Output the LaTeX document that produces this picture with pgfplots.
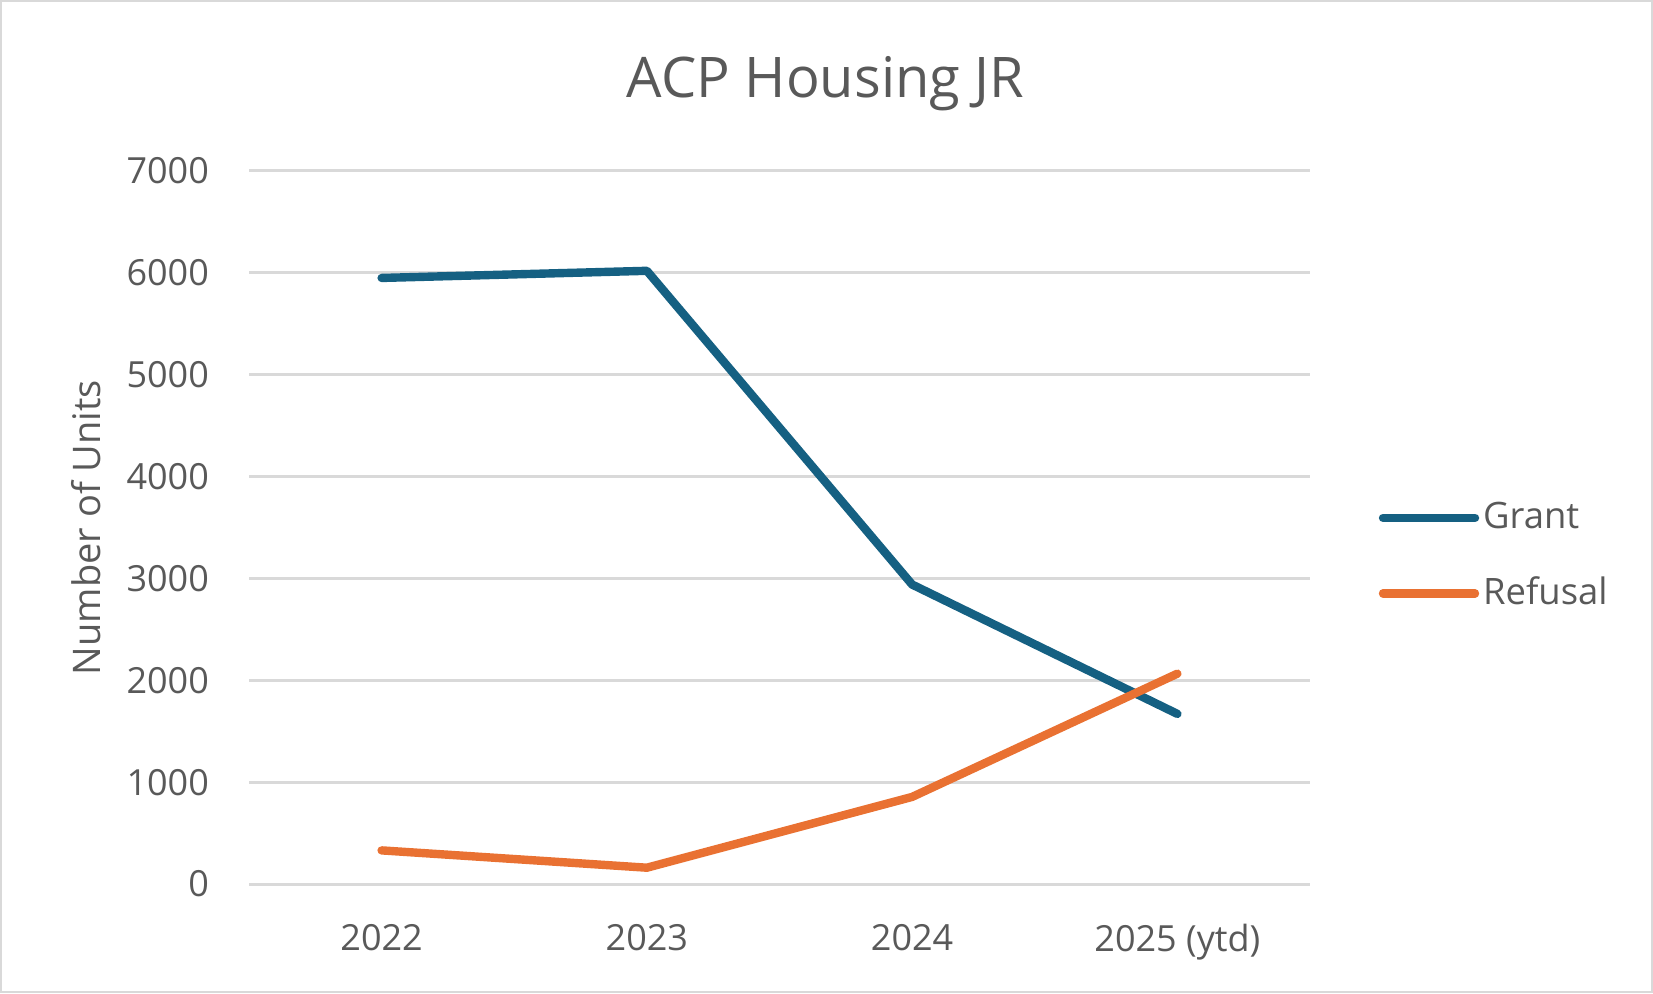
\documentclass[border=0pt]{standalone}
\usepackage{fontspec}
\setmainfont{Open Sans}
\usepackage{pgfplots}
\pgfplotsset{compat=1.18}
\definecolor{grantc}{HTML}{156082}
\definecolor{refc}{HTML}{E97132}
\definecolor{txt}{HTML}{595959}
\definecolor{gridc}{HTML}{D9D9D9}

\begin{document}
\begin{tikzpicture}
\begin{axis}[
  name=ax,
  scale only axis,
  width=265.25pt, height=178.25pt,
  xmin=-0.5, xmax=3.5, ymin=0, ymax=7000,
  xtick={0,1,2,3},
  xticklabels={2022,2023,2024,2025 (ytd)},
  ytick={0,1000,...,7000},
  ymajorgrids,
  grid style={gridc, line width=0.75pt},
  axis line style={draw=none},
  major tick length=0pt,
  tick label style={font=\fontsize{9}{11}\selectfont, text=txt},
  /pgf/number format/assume math mode=true,
  /pgf/number format/1000 sep={},
  scaled y ticks=false,
  yticklabel style={xshift=-6.5pt},
  xticklabel style={yshift=-6.5pt},
  ylabel={Number of Units},
  every axis y label/.style={at={(rel axis cs:0,0.5)}, xshift=-40.6pt,
    rotate=90, anchor=center, font=\fontsize{9.5}{11}\selectfont, text=txt},
  legend style={at={(rel axis cs:1,0.46)}, anchor=west, xshift=17pt,
    draw=none, fill=none, inner sep=0pt, row sep=8.6pt,
    font=\fontsize{9.1}{11}\selectfont, text=txt,
    nodes={inner sep=1pt}},
  legend cell align=left,
  legend image code/.code={\draw[#1] (0pt,0pt) -- (23pt,0pt);},
  clip=false,
]
% Grant
\addplot[grantc, line width=2.1pt, line cap=round, line join=round]
  coordinates {(0,5950) (1,6020) (2,2940) (3,1670)};
\addlegendentry{Grant}
% Refusal
\addplot[refc, line width=2.1pt, line cap=round, line join=round]
  coordinates {(0,330) (1,160) (2,855) (3,2065)};
\addlegendentry{Refusal}
\end{axis}

\path[use as bounding box] ([xshift=-62.25pt,yshift=-27.25pt]ax.south west)
  rectangle ([xshift=85.75pt,yshift=42.75pt]ax.north east);
\draw[gridc, line width=0.6pt] ([xshift=-61.95pt,yshift=-26.95pt]ax.south west)
  rectangle ([xshift=85.45pt,yshift=42.45pt]ax.north east);
\node[anchor=base, text=txt, font=\fontsize{14}{16}\selectfont]
  at ([xshift=144.15pt,yshift=18.25pt]ax.north west) {ACP Housing JR};
\end{tikzpicture}
\end{document}
